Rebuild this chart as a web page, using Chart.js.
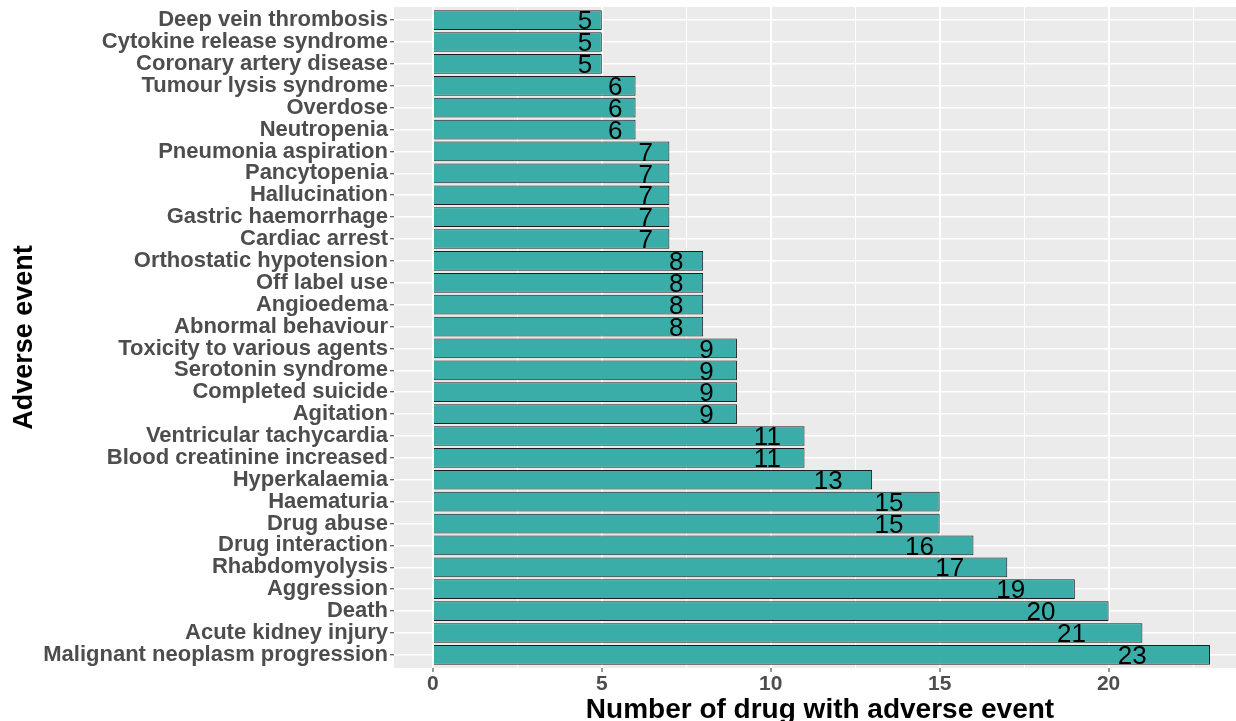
<!DOCTYPE html>
<html>
<head>
<meta charset="utf-8">
<script src="https://cdn.jsdelivr.net/npm/chart.js@4"></script>
<style>
html,body{margin:0;padding:0;background:#fff;}
canvas{display:block;}
</style>
</head>
<body>
<canvas id="c" width="1236" height="721"></canvas>
<script>
const categories = [
  "Deep vein thrombosis","Cytokine release syndrome","Coronary artery disease",
  "Tumour lysis syndrome","Overdose","Neutropenia",
  "Pneumonia aspiration","Pancytopenia","Hallucination","Gastric haemorrhage","Cardiac arrest",
  "Orthostatic hypotension","Off label use","Angioedema","Abnormal behaviour",
  "Toxicity to various agents","Serotonin syndrome","Completed suicide","Agitation",
  "Ventricular tachycardia","Blood creatinine increased","Hyperkalaemia",
  "Haematuria","Drug abuse","Drug interaction","Rhabdomyolysis","Aggression",
  "Death","Acute kidney injury","Malignant neoplasm progression"
];
const drugCounts = [5,5,5,6,6,6,7,7,7,7,7,8,8,8,8,9,9,9,9,11,11,13,15,15,16,17,19,20,21,23];
const xTickValues = [0,2.5,5,7.5,10,12.5,15,17.5,20,22.5];
const xTickLabels = ["0","","5","","10","","15","","20",""];
const xTitle = "Number of drug with adverse event";
const yTitle = "Adverse event";

const points = categories.map((c,i)=>({x: drugCounts[i], y: i+1}));

const panelBg = {
  id:'panelBg',
  beforeDraw(chart){
    const a = chart.chartArea, ctx = chart.ctx;
    ctx.save();
    ctx.fillStyle = '#EBEBEB';
    ctx.fillRect(a.left, a.top, a.right-a.left, a.bottom-a.top);
    ctx.restore();
  }
};
const valueLabels = {
  id:'valueLabels',
  afterDatasetsDraw(chart){
    const ctx = chart.ctx, xs = chart.scales.x;
    const meta = chart.getDatasetMeta(0);
    ctx.save();
    ctx.font = '26px "Liberation Sans", Arial, sans-serif';
    ctx.fillStyle = '#000';
    ctx.textAlign = 'center';
    ctx.textBaseline = 'middle';
    meta.data.forEach((el,i)=>{
      const v = drugCounts[i];
      ctx.fillText(String(v), xs.getPixelForValue(v*0.9), el.y + 2);
    });
    ctx.restore();
  }
};
const axisTitles = {
  id:'axisTitles',
  afterDraw(chart){
    const ctx = chart.ctx, a = chart.chartArea;
    ctx.save();
    ctx.fillStyle = '#000';
    ctx.font = 'bold 28px "Liberation Sans", Arial, sans-serif';
    ctx.textAlign = 'center';
    ctx.textBaseline = 'alphabetic';
    ctx.fillText(xTitle, 820, 718);
    ctx.font = 'bold 27px "Liberation Sans", Arial, sans-serif';
    ctx.translate(32, (a.top+a.bottom)/2);
    ctx.rotate(-Math.PI/2);
    ctx.fillText(yTitle, 0, 0);
    ctx.restore();
  }
};

new Chart(document.getElementById('c'), {
  type:'bar',
  data:{
    datasets:[{
      data: points,
      backgroundColor:'#3AADA8',
      borderColor:'#1f1f1f',
      borderWidth:1,
      barPercentage:0.9,
      categoryPercentage:1
    }]
  },
  options:{
    indexAxis:'y',
    responsive:false,
    animation:false,
    devicePixelRatio:1,
    layout:{padding:{top:7,right:0,left:0,bottom:0}},
    plugins:{legend:{display:false},tooltip:{enabled:false}},
    scales:{
      x:{
        type:'linear',
        min:-1.15, max:23.77,
        offset:false,
        afterBuildTicks(s){ s.ticks = xTickValues.map(v=>({value:v})); },
        afterFit(s){ s.height = 53; s.paddingLeft = 0; s.paddingRight = 0; },
        border:{display:false},
        grid:{
          offset:false,
          color:'#FFFFFF',
          lineWidth:(c)=> (c.tick && c.tick.value % 5 === 0) ? 2 : 1,
          tickColor:(c)=> (c.tick && c.tick.value % 5 === 0) ? '#333333' : 'rgba(0,0,0,0)',
          tickLength:4, tickWidth:1
        },
        ticks:{
          autoSkip:false, maxRotation:0, padding:0,
          color:'#4D4D4D',
          font:{family:'"Liberation Sans", Arial, sans-serif', size:21, weight:'bold'},
          callback:(v,i)=> xTickLabels[i]
        }
      },
      y:{
        type:'linear',
        min:0.4, max:30.6, reverse:true,
        offset:false,
        afterBuildTicks(s){ s.ticks = categories.map((c,i)=>({value:i+1})); },
        afterFit(s){ s.width = 394; s.paddingTop = 0; s.paddingBottom = 0; },
        border:{display:false},
        grid:{
          offset:false,
          color:'#FFFFFF', lineWidth:1.5,
          tickColor:'#333333', tickLength:4, tickWidth:1
        },
        ticks:{
          autoSkip:false, padding:2,
          color:'#4D4D4D',
          font:{family:'"Liberation Sans", Arial, sans-serif', size:22, weight:'bold'},
          callback:(v,i)=> categories[i]
        }
      }
    }
  },
  plugins:[panelBg, valueLabels, axisTitles]
});
</script>
</body>
</html>
